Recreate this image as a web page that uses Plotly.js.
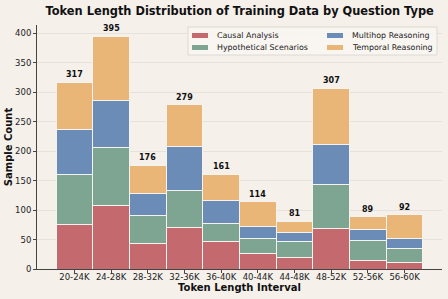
<!DOCTYPE html>
<html>
<head>
<meta charset="utf-8">
<script src="https://cdn.plot.ly/plotly-3.0.1.min.js"></script>
<style>html,body{margin:0;padding:0;background:#f5f0ea;}#chart{width:448px;height:299px;}</style>
</head>
<body>
<div id="chart"></div>
<script>
const categories = ["20-24K","24-28K","28-32K","32-36K","36-40K","40-44K","44-48K","48-52K","52-56K","56-60K"];
const causal = [76,107,43,71,46,27,20,68,15,11];
const hypothetical = [85,99,47,63,32,24,26,75,33,24];
const multihop = [75,80,38,74,38,21,16,68,19,17];
const temporal = [81,109,48,71,45,42,19,96,22,40];
const seriesNames = ["Causal Analysis","Hypothetical Scenarios","Multihop Reasoning","Temporal Reasoning"];
const colors = ["#c4696e","#7ea592","#6b8cb6","#e9b677"];
const series = [causal, hypothetical, multihop, temporal];
const totals = categories.map((c,i)=>series.reduce((s,a)=>s+a[i],0));

const traces = series.map((vals,k)=>({
  type:'bar', x:categories, y:vals, name:seriesNames[k],
  marker:{color:colors[k], line:{color:'#f5f3f0', width:1}},
  hoverinfo:'skip', showlegend:false
}));

const annotations = categories.map((c,i)=>({
  x:c, y:totals[i], text:'<b>'+totals[i]+'</b>', showarrow:false,
  yanchor:'bottom', yshift:1, font:{family:'DejaVu Sans', size:8, color:'#111'}
}));

// Legend drawn in paper coordinates (plot area: left 37px, width 405px; bottom 269px, height 244px)
const L = 37, W = 405, B = 269, H = 244;
const px = v => (v - L) / W, py = v => (B - v) / H;
const shapes = [{type:'rect', xref:'paper', yref:'paper', x0:px(188), x1:px(437), y0:py(55), y1:py(27),
  fillcolor:'rgba(248,245,241,0.92)', line:{color:'#dcd8d3', width:1}}];
const legendPos = [[192,35.5],[192,47.5],[327,35.5],[327,47.5]];
seriesNames.forEach((n,k)=>{
  const [sx, sy] = legendPos[k];
  shapes.push({type:'rect', xref:'paper', yref:'paper', x0:px(sx), x1:px(sx+16), y0:py(sy+2.5), y1:py(sy-2.5),
    fillcolor:colors[k], line:{width:0}});
  annotations.push({xref:'paper', yref:'paper', x:px(sx+23), y:py(sy), xanchor:'left', yanchor:'middle',
    text:n, showarrow:false, font:{family:'DejaVu Sans', size:7.9, color:'#222'}});
});

const layout = {
  width:448, height:299,
  paper_bgcolor:'#f5f0ea', plot_bgcolor:'#f5f0ea',
  margin:{l:37, r:6, t:25, b:30},
  barmode:'stack', bargap:0,
  title:{text:'<b>Token Length Distribution of Training Data by Question Type</b>', x:0.535, xanchor:'center', y:0.962, yanchor:'middle',
    font:{family:'DejaVu Sans', size:11.4, color:'#111'}},
  xaxis:{range:[-1.02,10.02], showline:true, linecolor:'#444', linewidth:1, ticks:'outside', ticklen:3, tickcolor:'#444',
    ticklabelstandoff:-3,
    tickfont:{family:'DejaVu Sans', size:8.5, color:'#222'}, showgrid:false,
    title:{text:'<b>Token Length Interval</b>', font:{family:'DejaVu Sans', size:10, color:'#111'}, standoff:0}},
  yaxis:{range:[0,414], dtick:50, showline:true, linecolor:'#444', linewidth:1, ticks:'outside', ticklen:3, tickcolor:'#444',
    tickfont:{family:'DejaVu Sans', size:8.5, color:'#222'}, showgrid:true, gridcolor:'#e6e1db', gridwidth:1, zeroline:false,
    title:{text:'<b>Sample Count</b>', font:{family:'DejaVu Sans', size:10, color:'#111'}, standoff:0}},
  annotations:annotations,
  shapes:shapes,
  showlegend:false
};
Plotly.newPlot('chart', traces, layout, {displayModeBar:false, staticPlot:true});
</script>
</body>
</html>
